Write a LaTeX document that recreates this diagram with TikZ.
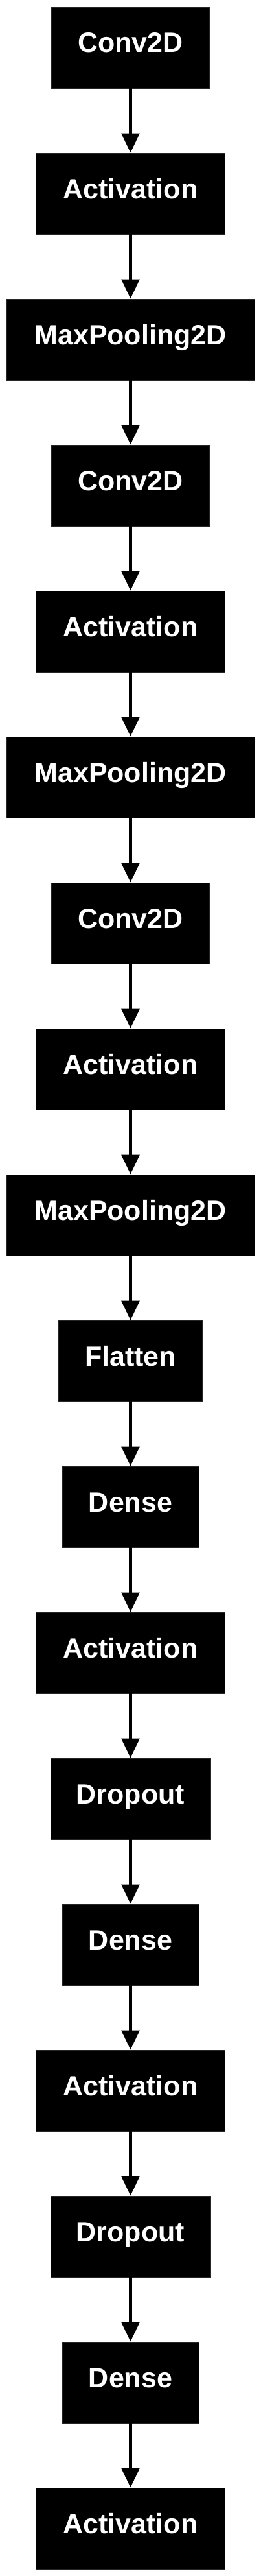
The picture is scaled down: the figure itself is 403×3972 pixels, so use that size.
\documentclass[tikz,border=0pt]{standalone}
\usepackage{fontspec}
\setmainfont{Liberation Sans}
\usetikzlibrary{arrows.meta}
\begin{document}
\begin{tikzpicture}[x=1pt,y=-1pt,
  layer/.style={rectangle,fill=black,draw=black!85,line width=0.6pt,text=white,inner sep=0pt,
    minimum height=125pt,text height=30pt,text depth=15pt,
    font=\fontsize{43}{50}\selectfont\bfseries},
  conn/.style={line width=5.5pt,-{Triangle[length=30pt,width=27pt]}}]
\useasboundingbox (0,0) rectangle (403,3972);
\def\cx{201.5}
\node[layer,minimum width=244pt] (n0) at (\cx,73.5) {Conv2D};
\node[layer,minimum width=292pt] (n1) at (\cx,298.5) {Activation};
\node[layer,minimum width=383pt] (n2) at (\cx,523.5) {MaxPooling2D};
\node[layer,minimum width=244pt] (n3) at (\cx,748.5) {Conv2D};
\node[layer,minimum width=292pt] (n4) at (\cx,973.5) {Activation};
\node[layer,minimum width=383pt] (n5) at (\cx,1198.5) {MaxPooling2D};
\node[layer,minimum width=244pt] (n6) at (\cx,1423.5) {Conv2D};
\node[layer,minimum width=292pt] (n7) at (\cx,1648.5) {Activation};
\node[layer,minimum width=383pt] (n8) at (\cx,1873.5) {MaxPooling2D};
\node[layer,minimum width=222pt] (n9) at (\cx,2098.5) {Flatten};
\node[layer,minimum width=211pt] (n10) at (\cx,2323.5) {Dense};
\node[layer,minimum width=292pt] (n11) at (\cx,2548.5) {Activation};
\node[layer,minimum width=247pt] (n12) at (\cx,2773.5) {Dropout};
\node[layer,minimum width=211pt] (n13) at (\cx,2998.5) {Dense};
\node[layer,minimum width=292pt] (n14) at (\cx,3223.5) {Activation};
\node[layer,minimum width=247pt] (n15) at (\cx,3448.5) {Dropout};
\node[layer,minimum width=211pt] (n16) at (\cx,3673.5) {Dense};
\node[layer,minimum width=292pt] (n17) at (\cx,3898.5) {Activation};
\foreach \a/\b in {0/1,1/2,2/3,3/4,4/5,5/6,6/7,7/8,8/9,9/10,10/11,11/12,12/13,13/14,14/15,15/16,16/17}
  \draw[conn] (n\a) -- (n\b);
\end{tikzpicture}
\end{document}
